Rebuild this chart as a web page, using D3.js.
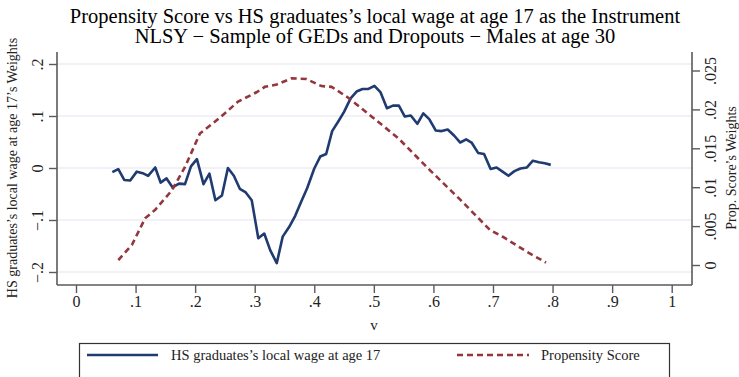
<!DOCTYPE html>
<html>
<head>
<meta charset="utf-8">
<script src="https://cdn.jsdelivr.net/npm/d3@7"></script>
<style>
  html, body { margin: 0; padding: 0; background: #fff; }
  svg { display: block; font-family: "Liberation Serif", "DejaVu Serif", serif; }
</style>
</head>
<body>
<svg id="chart" width="739" height="377"></svg>
<script>
// Weights on the local wage instrument (left axis)
const wageV = [0.061,0.071,0.081,0.091,0.102,0.112,0.121,0.133,0.142,0.152,0.162,0.173,0.183,0.193,0.203,0.214,0.224,0.234,0.245,0.255,0.265,0.275,0.285,0.295,0.306,0.316,0.326,0.337,0.347,0.358,0.368,0.378,0.388,0.400,0.410,0.420,0.430,0.440,0.450,0.461,0.471,0.481,0.491,0.501,0.511,0.522,0.532,0.542,0.552,0.562,0.573,0.583,0.593,0.604,0.614,0.624,0.635,0.645,0.655,0.664,0.675,0.685,0.696,0.706,0.716,0.726,0.736,0.746,0.757,0.767,0.777,0.787,0.797];
const wageW = [-0.008,-0.002,-0.023,-0.024,-0.007,-0.010,-0.015,0.001,-0.028,-0.020,-0.037,-0.030,-0.031,0.003,0.017,-0.031,-0.011,-0.062,-0.053,0.000,-0.015,-0.040,-0.047,-0.062,-0.135,-0.126,-0.158,-0.183,-0.132,-0.113,-0.092,-0.065,-0.039,-0.001,0.022,0.027,0.071,0.089,0.108,0.134,0.147,0.152,0.152,0.158,0.146,0.115,0.120,0.120,0.099,0.101,0.085,0.105,0.094,0.072,0.071,0.074,0.062,0.049,0.055,0.049,0.029,0.027,-0.002,0.001,-0.007,-0.015,-0.006,-0.001,0.001,0.014,0.011,0.009,0.006];

// Propensity score weights (right axis)
const psV = [0.071,0.094,0.116,0.133,0.161,0.183,0.208,0.233,0.250,0.272,0.303,0.317,0.337,0.362,0.387,0.412,0.429,0.457,0.496,0.541,0.594,0.645,0.695,0.717,0.757,0.789];
const psW = [0.00064,0.0026,0.0060,0.0071,0.0096,0.0126,0.0169,0.0184,0.0195,0.0210,0.0222,0.0229,0.0232,0.0240,0.0239,0.0230,0.0229,0.0215,0.0191,0.0163,0.0122,0.0084,0.0045,0.0036,0.0017,0.0003];

const xTicks = [0,0.1,0.2,0.3,0.4,0.5,0.6,0.7,0.8,0.9,1];
const xTickLabels = ["0",".1",".2",".3",".4",".5",".6",".7",".8",".9","1"];
const yLeftTicks = [-0.2,-0.1,0,0.1,0.2];
const yLeftLabels = ["\u2212.2","\u2212.1","0",".1",".2"];
const yRightTicks = [0,0.005,0.01,0.015,0.02,0.025];
const yRightLabels = ["0",".005",".01",".015",".02",".025"];

const titleLines = ["Propensity Score vs HS graduates\u2019s local wage at age 17 as the Instrument",
                    "NLSY \u2212 Sample of GEDs and Dropouts \u2212 Males at age 30"];
const xTitle = "v";
const yLeftTitle = "HS graduates\u2019s local wage at age 17\u2019s Weights";
const yRightTitle = "Prop. Score\u2019s Weights";
const legendLabels = ["HS graduates\u2019s local wage at age 17", "Propensity Score"];

const navy = "#1f3b6f", maroon = "#93363d", axisCol = "#5a5a5a", gridCol = "#e4e4f0";

const svg = d3.select("#chart");
const plot = {left: 57, right: 692, top: 52, bottom: 285};

const x = d3.scaleLinear().domain([0, 1]).range([76, 671.7]);
const yL = d3.scaleLinear().domain([-0.2, 0.2]).range([272, 64]);
const yR = d3.scaleLinear().domain([0, 0.025]).range([265, 70.5]);

// gridlines on the left-axis ticks
svg.append("g").selectAll("line").data(yLeftTicks).join("line")
  .attr("x1", plot.left).attr("x2", plot.right)
  .attr("y1", d => yL(d)).attr("y2", d => yL(d))
  .attr("stroke", gridCol).attr("stroke-width", 1.2);

// series
const wageLine = d3.line().x(d => x(d[0])).y(d => yL(d[1]));
svg.append("path").datum(d3.zip(wageV, wageW))
  .attr("d", wageLine).attr("fill", "none")
  .attr("stroke", navy).attr("stroke-width", 2.6).attr("stroke-linejoin", "round");

const psLine = d3.line().x(d => x(d[0])).y(d => yR(d[1]));
svg.append("path").datum(d3.zip(psV, psW))
  .attr("d", psLine).attr("fill", "none")
  .attr("stroke", maroon).attr("stroke-width", 2.6).attr("stroke-dasharray", "6,4");

// axes
const fontTick = 16;
const gx = svg.append("g").attr("transform", `translate(0,${plot.bottom})`)
  .call(d3.axisBottom(x).tickValues(xTicks).tickFormat((d, i) => xTickLabels[i]).tickSize(8).tickPadding(3).tickSizeOuter(0));
gx.select(".domain").remove();
gx.append("line").attr("x1", plot.left).attr("x2", plot.right).attr("stroke", axisCol).attr("stroke-width", 1.6);

const gl = svg.append("g").attr("transform", `translate(${plot.left},0)`)
  .call(d3.axisLeft(yL).tickValues(yLeftTicks).tickFormat((d, i) => yLeftLabels[i]).tickSize(8).tickSizeOuter(0));
gl.select(".domain").remove();
gl.append("line").attr("y1", plot.top).attr("y2", plot.bottom).attr("stroke", axisCol).attr("stroke-width", 1.6);
gl.selectAll(".tick text").attr("x", 0).attr("dy", 0).attr("text-anchor", "middle")
  .attr("transform", "translate(-20,0) rotate(-90)").attr("dominant-baseline", "central");

const gr = svg.append("g").attr("transform", `translate(${plot.right},0)`)
  .call(d3.axisRight(yR).tickValues(yRightTicks).tickFormat((d, i) => yRightLabels[i]).tickSize(8).tickSizeOuter(0));
gr.select(".domain").remove();
gr.append("line").attr("y1", plot.top).attr("y2", plot.bottom).attr("stroke", axisCol).attr("stroke-width", 1.6);
gr.selectAll(".tick text").attr("x", 0).attr("dy", 0).attr("text-anchor", "middle")
  .attr("transform", "translate(18,0) rotate(-90)").attr("dominant-baseline", "central");

svg.selectAll(".tick line").attr("stroke", axisCol).attr("stroke-width", 1.4);
svg.selectAll(".tick text").attr("fill", "#222").style("font-size", fontTick + "px")
  .style("font-family", "Liberation Serif, serif");

// titles
svg.append("g").selectAll("text").data(titleLines).join("text")
  .attr("x", 375).attr("y", (d, i) => 23 + i * 20).attr("text-anchor", "middle")
  .attr("fill", "#000").style("font-size", "20.5px").text(d => d);

svg.append("text").attr("x", 374).attr("y", 330).attr("text-anchor", "middle")
  .attr("fill", "#222").style("font-size", "15px").text(xTitle);

svg.append("text").attr("transform", "translate(12,168) rotate(-90)")
  .attr("text-anchor", "middle").attr("dominant-baseline", "central")
  .attr("fill", "#222").style("font-size", "14px").text(yLeftTitle);

svg.append("text").attr("transform", "translate(731,168) rotate(-90)")
  .attr("text-anchor", "middle").attr("dominant-baseline", "central")
  .attr("fill", "#222").style("font-size", "14px").text(yRightTitle);

// legend
const lg = svg.append("g");
lg.append("rect").attr("x", 79.5).attr("y", 343.5).attr("width", 590).attr("height", 50)
  .attr("fill", "#fff").attr("stroke", "#333").attr("stroke-width", 1.2);
const legendItems = [
  {x1: 87, x2: 158, tx: 171, color: navy, dash: null},
  {x1: 457, x2: 529, tx: 541, color: maroon, dash: "6,4"}
];
legendItems.forEach((it, i) => {
  lg.append("line").attr("x1", it.x1).attr("x2", it.x2).attr("y1", 355).attr("y2", 355)
    .attr("stroke", it.color).attr("stroke-width", 2.6).attr("stroke-dasharray", it.dash);
  lg.append("text").attr("x", it.tx).attr("y", 355).attr("dominant-baseline", "central")
    .attr("fill", "#222").style("font-size", "14.5px").text(legendLabels[i]);
});
</script>
</body>
</html>
